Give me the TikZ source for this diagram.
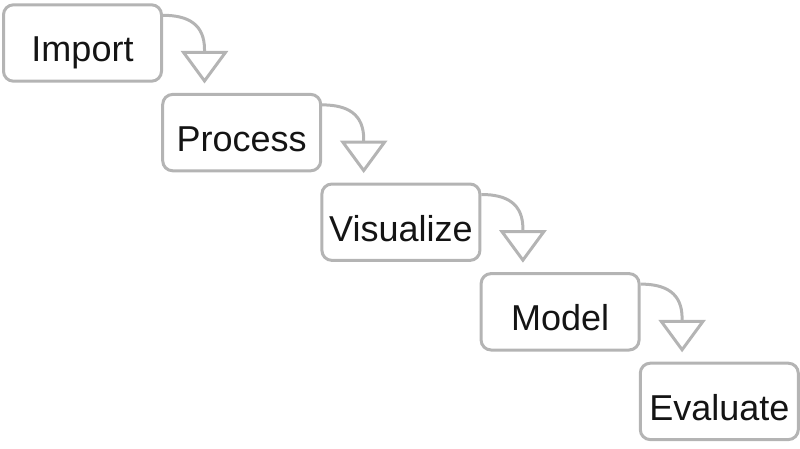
\documentclass[tikz,border=0pt]{standalone}
\usepackage{fontspec}
\setmainfont{Liberation Sans}
\usepackage{tikz}
\usetikzlibrary{arrows.meta}
\definecolor{boxgray}{RGB}{180,180,180}
\definecolor{textgray}{RGB}{20,20,20}

\begin{document}
\begin{tikzpicture}[x=1pt,y=1pt,
	stage/.style={draw=boxgray,line width=3pt,rounded corners=10pt,minimum width=158pt,minimum height=76.4pt,text height=38pt,text depth=0pt,inner sep=0pt,text=textgray,font=\fontsize{36}{40}\selectfont},
	flow/.style={draw=boxgray,line width=3pt,-{Triangle[open,length=32.5pt,width=47pt]}}]
	\useasboundingbox (0,0) rectangle (800,448);
	\node[stage] (import) at (82.5,405) {Import};
	\node[stage] (process) at (241.7,315.4) {Process};
	\node[stage] (visualize) at (400.9,225.8) {Visualize};
	\node[stage] (model) at (560.1,136.2) {Model};
	\node[stage] (evaluate) at (719.3,46.6) {Evaluate};
	\draw[flow] ([yshift=-12pt]import.north east) to[out=0,in=90,looseness=1.2] ([xshift=43.3pt,yshift=43.4pt]process.north west) -- ([xshift=43.3pt,yshift=9.4pt]process.north west);
	\draw[flow] ([yshift=-12pt]process.north east) to[out=0,in=90,looseness=1.2] ([xshift=43.3pt,yshift=43.4pt]visualize.north west) -- ([xshift=43.3pt,yshift=9.4pt]visualize.north west);
	\draw[flow] ([yshift=-12pt]visualize.north east) to[out=0,in=90,looseness=1.2] ([xshift=43.3pt,yshift=43.4pt]model.north west) -- ([xshift=43.3pt,yshift=9.4pt]model.north west);
	\draw[flow] ([yshift=-12pt]model.north east) to[out=0,in=90,looseness=1.2] ([xshift=43.3pt,yshift=43.4pt]evaluate.north west) -- ([xshift=43.3pt,yshift=9.4pt]evaluate.north west);
\end{tikzpicture}
\end{document}
